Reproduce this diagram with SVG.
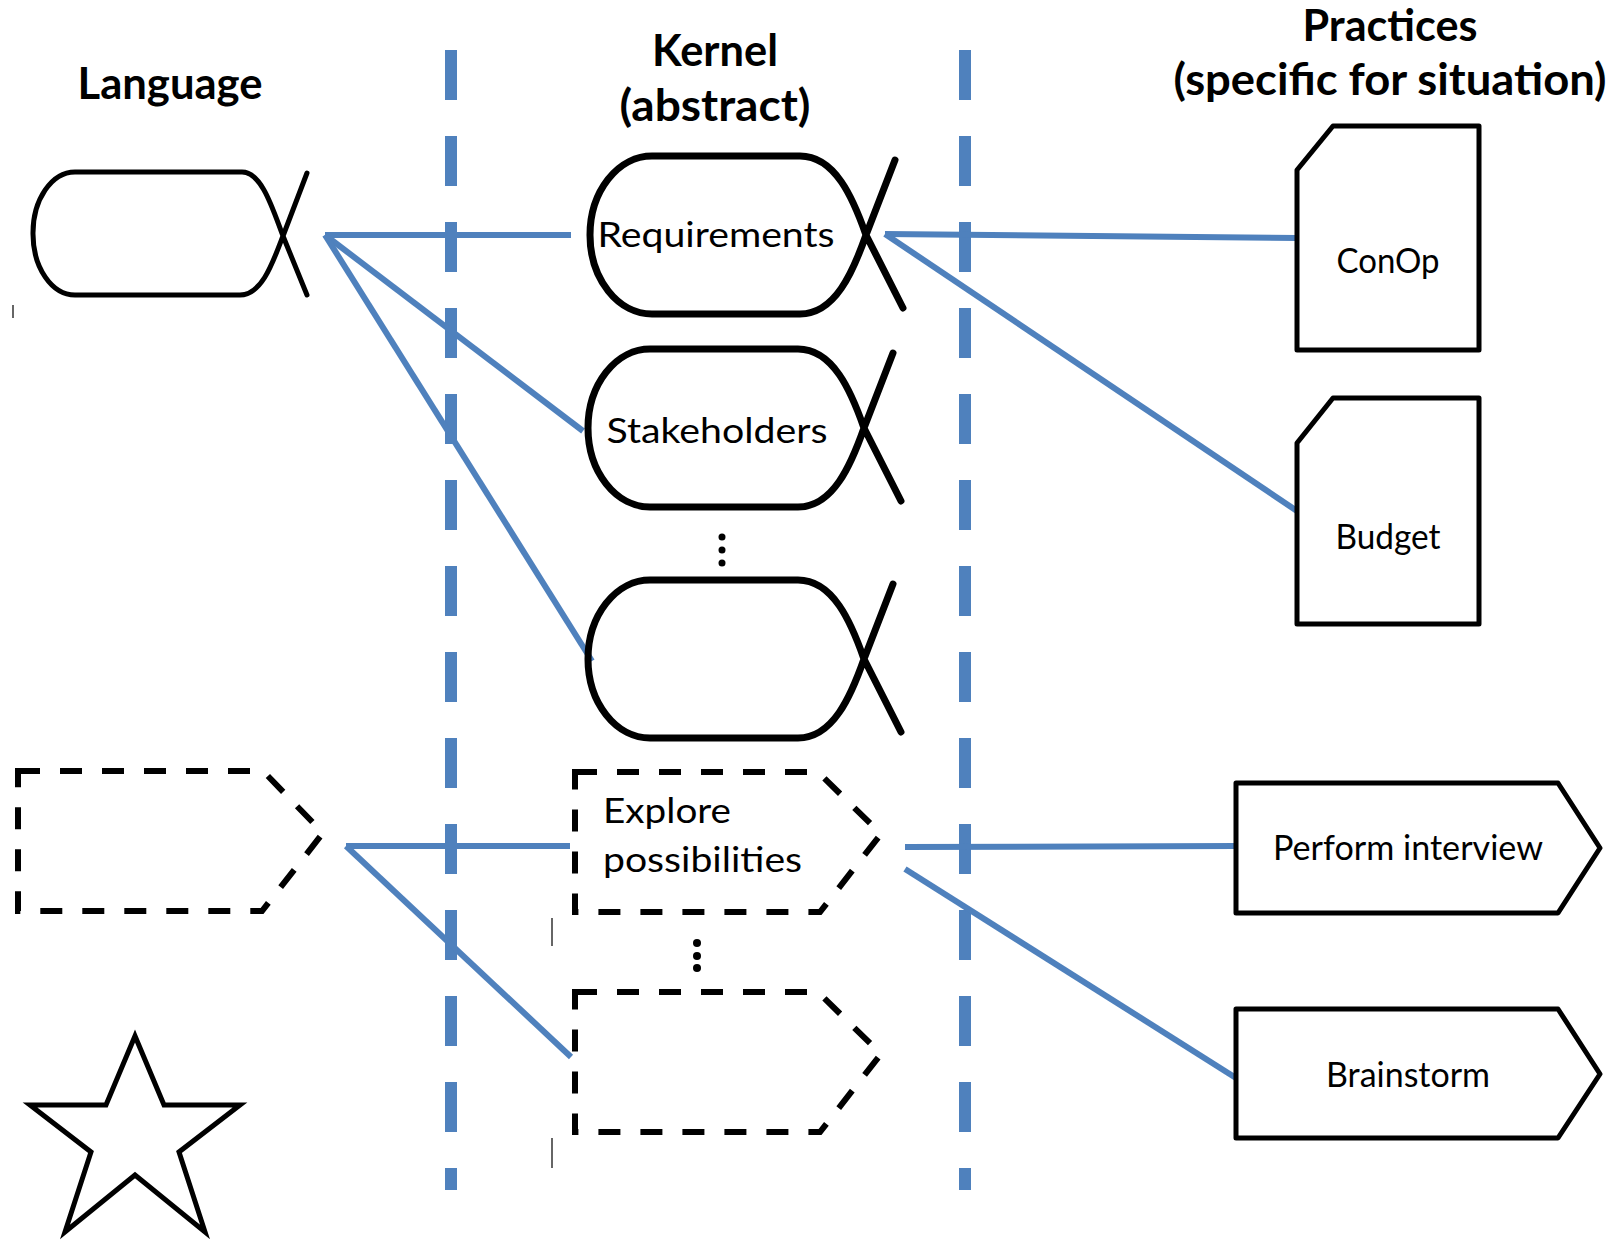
<svg xmlns="http://www.w3.org/2000/svg" width="1618" height="1240" viewBox="0 0 1618 1240">
  <style>
    .title { font-family: Lato, "Liberation Sans", sans-serif; font-weight: bold; font-size: 44px; fill: #000; text-anchor: middle; }
    .label { font-family: Lato, "Liberation Sans", sans-serif; font-size: 35px; fill: #000; }
    .mid { text-anchor: middle; }
    .alpha { fill: none; stroke: #000; stroke-width: 7; stroke-linecap: round; stroke-linejoin: round; }
    .box { fill: #fff; stroke: #000; stroke-width: 5; stroke-linejoin: round; }
    .activity { fill: none; stroke: #000; stroke-width: 6; stroke-dasharray: 22 20; }
    .sep { stroke: #4F81BD; stroke-width: 12; stroke-dasharray: 50 36; fill: none; }
    .link { stroke: #4F81BD; stroke-width: 6; fill: none; }
    .tick { stroke: #666; stroke-width: 2; }
  </style>
  <defs>
    <!-- kernel alpha: rounded body whose right side crosses into an open tail -->
    <path id="kernelAlpha" d="M 305,4 L 276,79 C 263,116 245,158 210,158 L 62,158 A 62,79 0 0 1 0,79 A 62,79 0 0 1 62,0 L 210,0 C 245,0 263,42 276,79 L 313,152"/>
  </defs>

  <rect width="1618" height="1240" fill="#fff"/>

  <!-- column headings -->
  <g id="headings">
    <text class="title" x="170" y="99" textLength="185" lengthAdjust="spacingAndGlyphs">Language</text>
    <text class="title" x="715" y="66" textLength="126" lengthAdjust="spacingAndGlyphs">Kernel</text>
    <text class="title" x="715" y="121" textLength="191" lengthAdjust="spacingAndGlyphs">(abstract)</text>
    <text class="title" x="1390" y="41" textLength="175" lengthAdjust="spacingAndGlyphs">Practices</text>
    <text class="title" x="1390" y="95" textLength="433" lengthAdjust="spacingAndGlyphs">(specific for situation)</text>
  </g>

  <!-- column separators -->
  <g id="separators">
    <line class="sep" x1="451" y1="50" x2="451" y2="1190"/>
    <line class="sep" x1="965" y1="50" x2="965" y2="1190"/>
  </g>

  <!-- connectors -->
  <g id="connectors">
    <line class="link" x1="325" y1="235" x2="571" y2="235"/>
    <line class="link" x1="325" y1="235" x2="583" y2="431"/>
    <line class="link" x1="325" y1="235" x2="592" y2="661"/>
    <line class="link" x1="885" y1="234" x2="1297" y2="238"/>
    <line class="link" x1="885" y1="234" x2="1297" y2="511"/>
    <line class="link" x1="346" y1="846" x2="570" y2="846"/>
    <line class="link" x1="346" y1="846" x2="571" y2="1057"/>
    <line class="link" x1="905" y1="847" x2="1236" y2="846"/>
    <line class="link" x1="905" y1="869" x2="1236" y2="1078"/>
  </g>

  <!-- language elements -->
  <g id="lang-alpha">
    <path class="alpha" style="stroke-width:5" d="M 307,173 L 283,236 C 273,262 262,295 240,295 L 75,295 A 42,61 0 0 1 33,234 A 42,61 0 0 1 75,172 L 242,172 C 262,172 273,210 283,236 L 307,295"/>
  </g>
  <g id="lang-activity">
    <path class="activity" d="M 18,771 L 263,771 L 323,833 L 262,911 L 18,911 Z"/>
  </g>
  <g id="lang-competency">
    <polygon fill="#fff" stroke="#000" stroke-width="5" stroke-linejoin="miter" points="135,1036 164,1105 240,1105 179,1152 205,1232 135,1175 65,1232 91,1152 30,1105 106,1105"/>
  </g>

  <!-- kernel alphas -->
  <g id="kernel-requirements">
    <use href="#kernelAlpha" class="alpha" transform="translate(590,156)"/>
    <text class="label mid" x="716" y="247" textLength="237" lengthAdjust="spacingAndGlyphs">Requirements</text>
  </g>
  <g id="kernel-stakeholders">
    <use href="#kernelAlpha" class="alpha" transform="translate(588,349)"/>
    <text class="label mid" x="717" y="443" textLength="221" lengthAdjust="spacingAndGlyphs">Stakeholders</text>
  </g>
  <g id="kernel-more">
    <circle cx="722" cy="537" r="3.5"/>
    <circle cx="722" cy="550" r="3.5"/>
    <circle cx="722" cy="563" r="3.5"/>
  </g>
  <g id="kernel-alpha-n">
    <use href="#kernelAlpha" class="alpha" transform="translate(588,580)"/>
  </g>

  <!-- kernel activity spaces -->
  <g id="kernel-explore">
    <path class="activity" d="M 575,772 L 818,772 L 881,834 L 820,912 L 575,912 Z"/>
    <text class="label" x="603" y="823" textLength="128" lengthAdjust="spacingAndGlyphs">Explore</text>
    <text class="label" x="603" y="872" textLength="199" lengthAdjust="spacingAndGlyphs">possibilities</text>
  </g>
  <g id="kernel-more-activities">
    <circle cx="697" cy="943" r="4"/>
    <circle cx="697" cy="956" r="4"/>
    <circle cx="697" cy="968" r="4"/>
  </g>
  <g id="kernel-activity-n">
    <path class="activity" d="M 575,992 L 818,992 L 881,1054 L 820,1132 L 575,1132 Z"/>
  </g>

  <!-- practice work products -->
  <g id="practice-conop">
    <path class="box" d="M 1333,126 L 1479,126 L 1479,350 L 1297,350 L 1297,170 Z"/>
    <text class="label mid" x="1388" y="273" textLength="103" lengthAdjust="spacingAndGlyphs">ConOp</text>
  </g>
  <g id="practice-budget">
    <path class="box" d="M 1333,398 L 1479,398 L 1479,624 L 1297,624 L 1297,443 Z"/>
    <text class="label mid" x="1388" y="549" textLength="105" lengthAdjust="spacingAndGlyphs">Budget</text>
  </g>

  <!-- practice activities -->
  <g id="practice-interview">
    <path class="box" d="M 1236,783 L 1558,783 L 1600,848 L 1558,913 L 1236,913 Z"/>
    <text class="label" x="1273" y="860" textLength="270" lengthAdjust="spacingAndGlyphs">Perform interview</text>
  </g>
  <g id="practice-brainstorm">
    <path class="box" d="M 1236,1009 L 1558,1009 L 1600,1074 L 1558,1138 L 1236,1138 Z"/>
    <text class="label" x="1326" y="1087" textLength="164" lengthAdjust="spacingAndGlyphs">Brainstorm</text>
  </g>

  <!-- small stray ticks -->
  <g id="ticks">
    <line class="tick" x1="13" y1="305" x2="13" y2="318"/>
    <line class="tick" x1="552" y1="918" x2="552" y2="946"/>
    <line class="tick" x1="552" y1="1138" x2="552" y2="1168"/>
  </g>
</svg>
